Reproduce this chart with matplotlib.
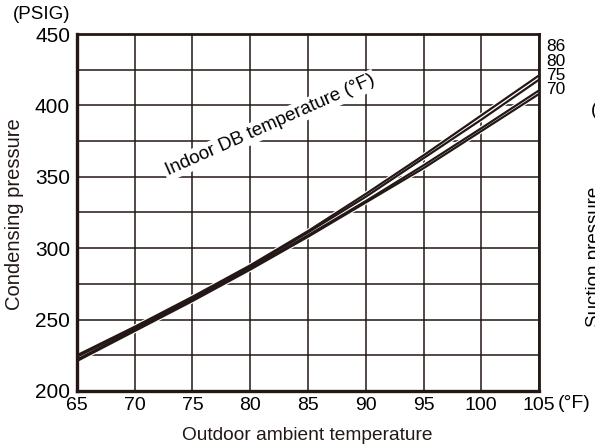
import numpy as np
import matplotlib.pyplot as plt

plt.rcParams["font.family"] = ["Liberation Sans", "DejaVu Sans"]

# ── data ──
outdoor = [65, 70, 75, 80, 85, 90, 95, 100, 105]
indoor_labels = ["86", "80", "75", "70"]
p86 = [225, 245, 266, 288, 312, 338, 365, 393, 421]
p80 = [224, 244, 265, 287, 311, 336, 363, 390, 418]
p75 = [222, 243, 264, 286, 309, 333, 358, 384, 410.5]
p70 = [221, 242, 263, 285, 308, 332, 356, 382, 408]
x_ticks = [65, 70, 75, 80, 85, 90, 95, 100, 105]
y_ticks = [200, 250, 300, 350, 400, 450]

fig = plt.figure(figsize=(5.95, 4.44), dpi=100)
ax = fig.add_axes([0.1294, 0.1194, 0.7765, 0.804])

ink = "#231815"

# grid
for xv in np.arange(65, 106, 5):
    ax.axvline(xv, color=ink, lw=1.1, zorder=1)
for yv in np.arange(200, 451, 25):
    ax.axhline(yv, color=ink, lw=1.1, zorder=1)

for series in [p70, p75, p80, p86]:
    ax.plot(outdoor, series, color="white", lw=3.2, zorder=3, solid_capstyle="butt")
    ax.plot(outdoor, series, color=ink, lw=1.6, zorder=4, solid_capstyle="butt")

ax.set_xlim(65, 105)
ax.set_ylim(200, 450)
ax.set_xticks(x_ticks)
ax.set_yticks(y_ticks)
ax.tick_params(length=0, colors="black")
ax.tick_params(axis="x", labelsize=14, pad=4)
ax.tick_params(axis="y", labelsize=15, pad=5)

for side in ["left", "bottom"]:
    ax.spines[side].set_linewidth(2.4)
for side in ["top", "right"]:
    ax.spines[side].set_linewidth(2.0)
for s in ax.spines.values():
    s.set_color(ink)
    s.set_zorder(5)

fig.text(0.516, 0.020, "Outdoor ambient temperature", fontsize=13.8,
         ha="center", va="center", color="#231815")
fig.text(0.025, 0.517, "Condensing pressure", fontsize=14.5, rotation=90,
         ha="center", va="center", color="#231815")

# label inside the grid
ax.text(81.7, 386, "Indoor DB temperature (°F)", rotation=24, fontsize=13.5,
        ha="center", va="center", zorder=6,
        bbox=dict(facecolor="white", edgecolor="none", pad=1.5))

# series labels at right
label_y = [441, 431, 421, 411]
for lab, yv in zip(indoor_labels, label_y):
    ax.text(105.6, yv, lab, fontsize=12.5, ha="left", va="center",
            clip_on=False)

fig.text(0.022, 0.967, "(PSIG)", fontsize=13.5, ha="left", va="center")
fig.text(0.937, 0.092, "(°F)", fontsize=14, ha="left", va="center")

# partial right-hand panel cut off at the edge
fig.text(0.985, 0.264, "Suction pressure", rotation=90, fontsize=13.5,
         ha="left", va="bottom")
fig.text(0.993, 0.752, "(", fontsize=13.5, ha="left", va="center")

fig.savefig("out.png", dpi=100)
